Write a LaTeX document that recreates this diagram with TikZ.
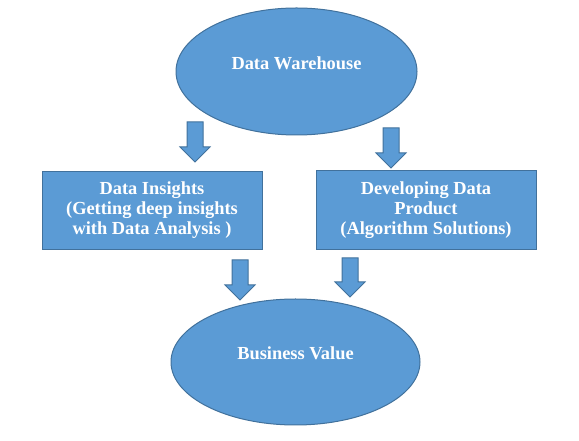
\documentclass[tikz,border=0pt]{standalone}
\usepackage{fontspec}
\setmainfont{Liberation Serif}
\usetikzlibrary{shapes.geometric}
\definecolor{offblue}{HTML}{5B9BD5}
\definecolor{offline}{HTML}{41719C}
\tikzset{
  shapebase/.style={fill=offblue, draw=offline, line width=0.75pt, inner sep=0pt},
  oval/.style={shapebase, ellipse},
  box/.style={shapebase, rectangle, align=center, text=white,
    font=\bfseries\fontsize{13.8}{15}\selectfont},
  lbl/.style={text=white, font=\bfseries\fontsize{13.8}{15}\selectfont},
  barrow/.style={fill=offblue, draw=offline, line width=0.75pt, line join=miter}
}
\newcommand{\blockarrowdown}[3]{%
  \draw[barrow] ({#1-8},#2) -- ({#1+8},#2) -- ({#1+8},{#3-15}) -- ({#1+15},{#3-15})
    -- (#1,#3) -- ({#1-15},{#3-15}) -- ({#1-8},{#3-15}) -- cycle;}
\begin{document}
\begin{tikzpicture}[x=0.75pt,y=-0.75pt]
\useasboundingbox (0,0) rectangle (579,441);
\node[oval, minimum width=241*0.75pt, minimum height=127*0.75pt,
  label={[lbl, yshift=6.4pt]center:Data Warehouse}] (dw) at (296.5,71.5) {};
\node[box, minimum width=220*0.75pt, minimum height=78*0.75pt] (di) at (152,211)
  {\raisebox{2pt}{\begin{tabular}{@{}c@{}}Data Insights\\(Getting deep insights\\with Data Analysis )\end{tabular}}};
\node[box, minimum width=220*0.75pt, minimum height=79*0.75pt] (dp) at (426,210.5)
  {\raisebox{2pt}{\begin{tabular}{@{}c@{}}Developing Data\\Product\\(Algorithm Solutions)\end{tabular}}};
\node[oval, minimum width=249*0.75pt, minimum height=126*0.75pt,
  label={[lbl, yshift=6.5pt]center:Business Value}] (bv) at (295.5,362) {};
\blockarrowdown{195}{122}{162}
\blockarrowdown{391}{128}{168}
\blockarrowdown{240}{260}{300}
\blockarrowdown{350}{258}{297}
\end{tikzpicture}
\end{document}
